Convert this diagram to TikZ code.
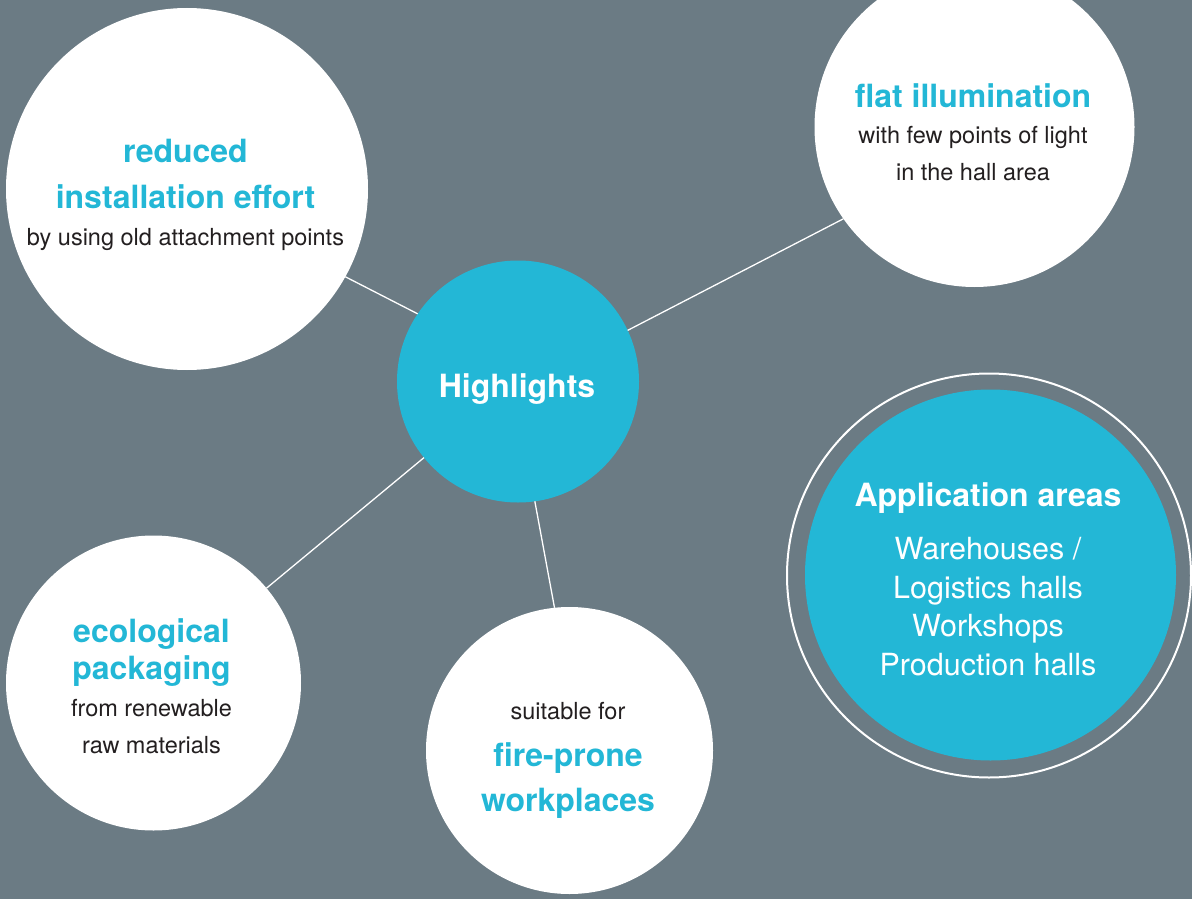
\documentclass[tikz,border=0pt]{standalone}
\usepackage{fontspec}
\setmainfont{TeX Gyre Heros}
\usepackage{tikz}
\usetikzlibrary{positioning}
\definecolor{slate}{HTML}{6B7B84}
\definecolor{hlcyan}{HTML}{23B7D6}
\definecolor{ink}{HTML}{231F20}
\newcommand{\hlhead}[1]{{\bfseries\fontsize{32}{37}\selectfont\color{hlcyan}#1}}

\begin{document}
\begin{tikzpicture}[x=1pt, y=-1pt,
    bubble/.style={circle, fill=white, inner sep=0pt, outer sep=0pt},
    hub/.style={circle, fill=hlcyan, inner sep=0pt, outer sep=0pt},
    spoke/.style={draw=white, line width=1.3pt},
    blurb/.style={align=center, inner sep=0pt, text=ink, font=\fontsize{23.5}{37}\selectfont}]

    % --- Canvas ---
    \useasboundingbox (0,0) rectangle (1192,899);
    \clip (0,0) rectangle (1192,899);
    \fill[slate] (0,0) rectangle (1192,899);

    % --- Circles ---
    \node[hub, minimum size=242] (hl) at (518,381.5) {};
    \node[bubble, minimum size=362] (red) at (187,189) {};
    \node[bubble, minimum size=320] (flat) at (974.5,127) {};
    \node[bubble, minimum size=295] (eco) at (153.5,683) {};
    \node[bubble, minimum size=287] (fire) at (569.5,750.5) {};

    % Application areas with ring
    \node[circle, draw=white, line width=2pt, minimum size=404] (ring) at (989,575.5) {};
    \node[hub, minimum size=371] (app) at (990.5,575) {};

    % --- Spokes ---
    \draw[spoke] (hl.146.6) -- (red.-29.2);
    \draw[spoke] (hl.25.2) -- (flat.215.7);
    \draw[spoke] (hl.219.9) -- (eco.40.6);
    \draw[spoke] (hl.278.8) -- (fire.96.5);

    % --- Texts ---
    \node[blurb, text=white, font=\bfseries\fontsize{32}{37}\selectfont] (hltxt) at (517,389) {Highlights};

    \node[blurb] (redtxt) at (185.5,195.3)
        {\hlhead{reduced}\\[9pt]\hlhead{installation effort}\\by using old attachment points};

    \node[blurb, font=\fontsize{23.5}{36.5}\selectfont] (flattxt) at (973,132)
        {\hlhead{flat illumination}\\with few points of light\\in the hall area};

    \node[blurb] (ecotxt) at (151.5,686)
        {\hlhead{ecological}\\\hlhead{packaging}\\from renewable\\raw materials};

    \node[blurb] (firetxt) at (568,760)
        {suitable for\\[10pt]\hlhead{fire-prone}\\[8pt]\hlhead{workplaces}};

    \node[blurb, text=white, font=\fontsize{30.5}{38.5}\selectfont] (apptxt) at (988,579.5)
        {{\bfseries\fontsize{32}{37}\selectfont Application areas}\\[14.5pt]Warehouses /\\Logistics halls\\Workshops\\Production halls};

\end{tikzpicture}
\end{document}
